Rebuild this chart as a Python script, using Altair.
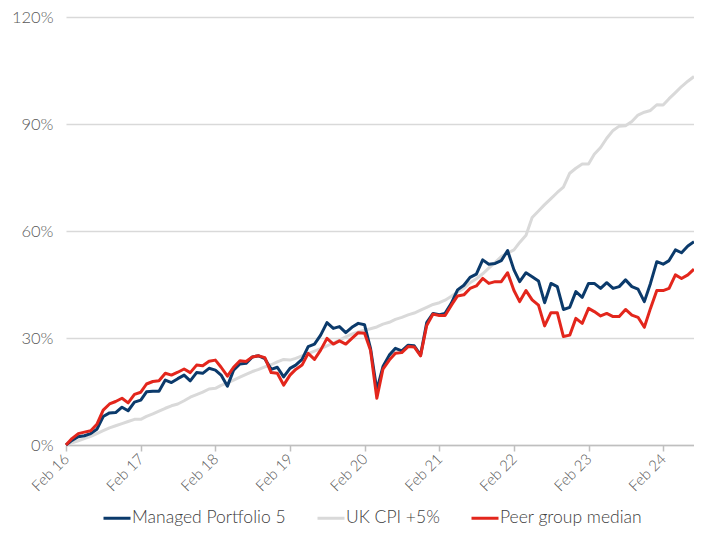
import altair as alt
import pandas as pd

# Monthly observation dates, Feb 2016 .. Jul 2024
dates = pd.date_range("2016-02-01", "2024-07-01", freq="MS")

series_names = ["Managed Portfolio 5", "UK CPI +5%", "Peer group median"]
series_colors = ["#0b3a6b", "#d9d9d9", "#e3261c"]

managed = [0, 1.3, 2.3, 2.6, 3.2, 4.4, 8.0, 9.0, 9.1, 10.6, 9.6, 12.0, 12.6, 14.9, 15.1, 15.1,
           18.2, 17.5, 18.6, 19.6, 18.0, 20.3, 20.1, 21.5, 21.0, 19.6, 16.5, 21.0, 22.7, 22.9,
           24.7, 25.0, 24.2, 21.2, 21.8, 19.1, 21.5, 22.4, 24.0, 27.6, 28.3, 30.8, 34.3, 32.7,
           33.2, 31.5, 33.0, 34.1, 33.7, 27.1, 15.4, 22.0, 25.2, 27.1, 26.4, 28.0, 27.8, 25.2,
           34.3, 36.9, 36.5, 36.9, 39.8, 43.5, 44.8, 47.0, 47.9, 51.9, 50.7, 50.9, 51.7, 54.5,
           49.1, 45.8, 48.3, 47.2, 46.0, 39.9, 45.3, 44.4, 38.0, 38.6, 43.0, 41.4, 45.3, 45.3,
           43.9, 45.5, 43.9, 44.4, 46.3, 44.4, 43.7, 40.2, 45.3, 51.4, 50.7, 51.7, 54.7, 53.9,
           55.8, 57.0]

cpi = [0, 0.6, 1.2, 1.8, 2.4, 3.2, 4.0, 4.8, 5.4, 6.0, 6.6, 7.2, 7.2, 8.0, 8.7, 9.5, 10.3,
       11.0, 11.5, 12.4, 13.4, 14.1, 14.8, 15.7, 15.9, 16.7, 17.4, 18.2, 19.0, 19.8, 20.6,
       21.2, 21.9, 22.5, 23.3, 24.0, 23.8, 24.3, 25.0, 25.6, 26.3, 27.0, 27.8, 28.6, 29.4,
       30.3, 31.1, 31.7, 32.2, 32.6, 33.1, 33.9, 34.4, 35.2, 35.8, 36.5, 37.0, 37.8, 38.6,
       39.4, 39.9, 40.6, 41.7, 42.9, 43.9, 45.5, 46.6, 48.0, 49.6, 51.2, 52.8, 53.8, 54.7,
       56.8, 58.8, 63.8, 65.6, 67.4, 69.1, 70.8, 72.3, 76.2, 77.6, 78.8, 78.8, 81.5, 83.4,
       86.0, 88.2, 89.4, 89.5, 90.7, 92.5, 93.3, 93.8, 95.4, 95.3, 97.1, 98.8, 100.5, 102.0,
       103.3]

peer = [0, 1.8, 3.2, 3.6, 4.0, 5.8, 9.8, 11.5, 12.2, 13.1, 11.8, 14.2, 14.8, 17.1, 17.8, 18.0,
        20.1, 19.6, 20.4, 21.3, 20.3, 22.4, 22.2, 23.5, 23.8, 21.8, 19.3, 21.8, 23.6, 23.4,
        24.7, 25.0, 24.5, 20.3, 20.1, 16.8, 19.6, 21.2, 22.4, 25.7, 24.0, 26.6, 29.9, 28.3,
        29.2, 28.3, 29.9, 31.5, 31.3, 26.6, 13.1, 21.3, 23.8, 25.7, 25.9, 27.6, 27.5, 25.0,
        33.5, 36.7, 36.3, 36.3, 39.2, 41.8, 42.1, 43.9, 44.6, 46.7, 45.3, 45.8, 45.8, 48.3,
        43.3, 40.2, 43.3, 40.7, 39.2, 33.4, 37.1, 37.1, 30.4, 30.8, 35.5, 34.1, 38.3, 37.4,
        36.2, 36.9, 36.0, 36.0, 38.0, 36.4, 35.8, 33.0, 38.3, 43.3, 43.3, 43.9, 47.7, 46.7,
        47.7, 49.3]

y_ticks = [0, 30, 60, 90, 120]
x_tick_years = list(range(2016, 2025))

frames = []
for name, vals in zip(series_names, [managed, cpi, peer]):
    frames.append(pd.DataFrame({"date": dates, "value": vals, "series": name}))
df = pd.concat(frames, ignore_index=True)

FONT = "Lato"

color_scale = alt.Scale(domain=series_names, range=series_colors)

x_enc = alt.X(
    "date:T",
    scale=alt.Scale(
        domain=[alt.DateTime(year=2016, month=2, date=1), alt.DateTime(year=2024, month=7, date=1)],
        nice=False,
    ),
    axis=alt.Axis(
        title=None,
        values=[alt.DateTime(year=y, month=2, date=1) for y in x_tick_years],
        format="%b %y",
        labelAngle=-45,
        labelAlign="right",
        labelBaseline="middle",
        labelFont=FONT,
        labelFontSize=15,
        labelFontWeight=300,
        labelColor="#595959",
        labelPadding=5,
        domainColor="#bfbfbf",
        domainWidth=1.5,
        tickColor="#bfbfbf",
        tickWidth=1.5,
        tickSize=6,
        grid=False,
    ),
)

y_enc = alt.Y(
    "value:Q",
    scale=alt.Scale(domain=[0, 120], nice=False),
    axis=alt.Axis(
        title=None,
        values=y_ticks,
        labelExpr="datum.value + '%'",
        labelFont=FONT,
        labelFontSize=16.5,
        labelFontWeight=300,
        labelColor="#595959",
        labelPadding=13,
        domain=False,
        ticks=False,
        grid=True,
        gridColor="#d9d9d9",
        gridWidth=1.5,
    ),
)

color_enc = alt.Color(
    "series:N",
    scale=color_scale,
    legend=alt.Legend(
        title=None,
        orient="none",
        legendX=36,
        legendY=486,
        direction="horizontal",
        symbolType="stroke",
        symbolSize=729,
        symbolStrokeWidth=3,
        labelFont=FONT,
        labelFontSize=17.5,
        labelFontWeight=300,
        labelColor="#404040",
        labelOffset=0,
        columnPadding=25,
    ),
)

layers = []
for name in ["UK CPI +5%", "Managed Portfolio 5", "Peer group median"]:
    layers.append(
        alt.Chart(df)
        .transform_filter(alt.datum.series == name)
        .mark_line(strokeWidth=3, strokeJoin="round")
        .encode(x=x_enc, y=y_enc, color=color_enc)
    )

chart = (
    alt.layer(*layers)
    .properties(
        width=628,
        height=428,
        autosize=alt.AutoSizeParams(type="none"),
        padding={"left": 58, "top": 9, "right": 0, "bottom": 85},
    )
    .configure_view(stroke=None)
)

chart.save("out.html", embed_options={"renderer": "svg", "actions": False})
